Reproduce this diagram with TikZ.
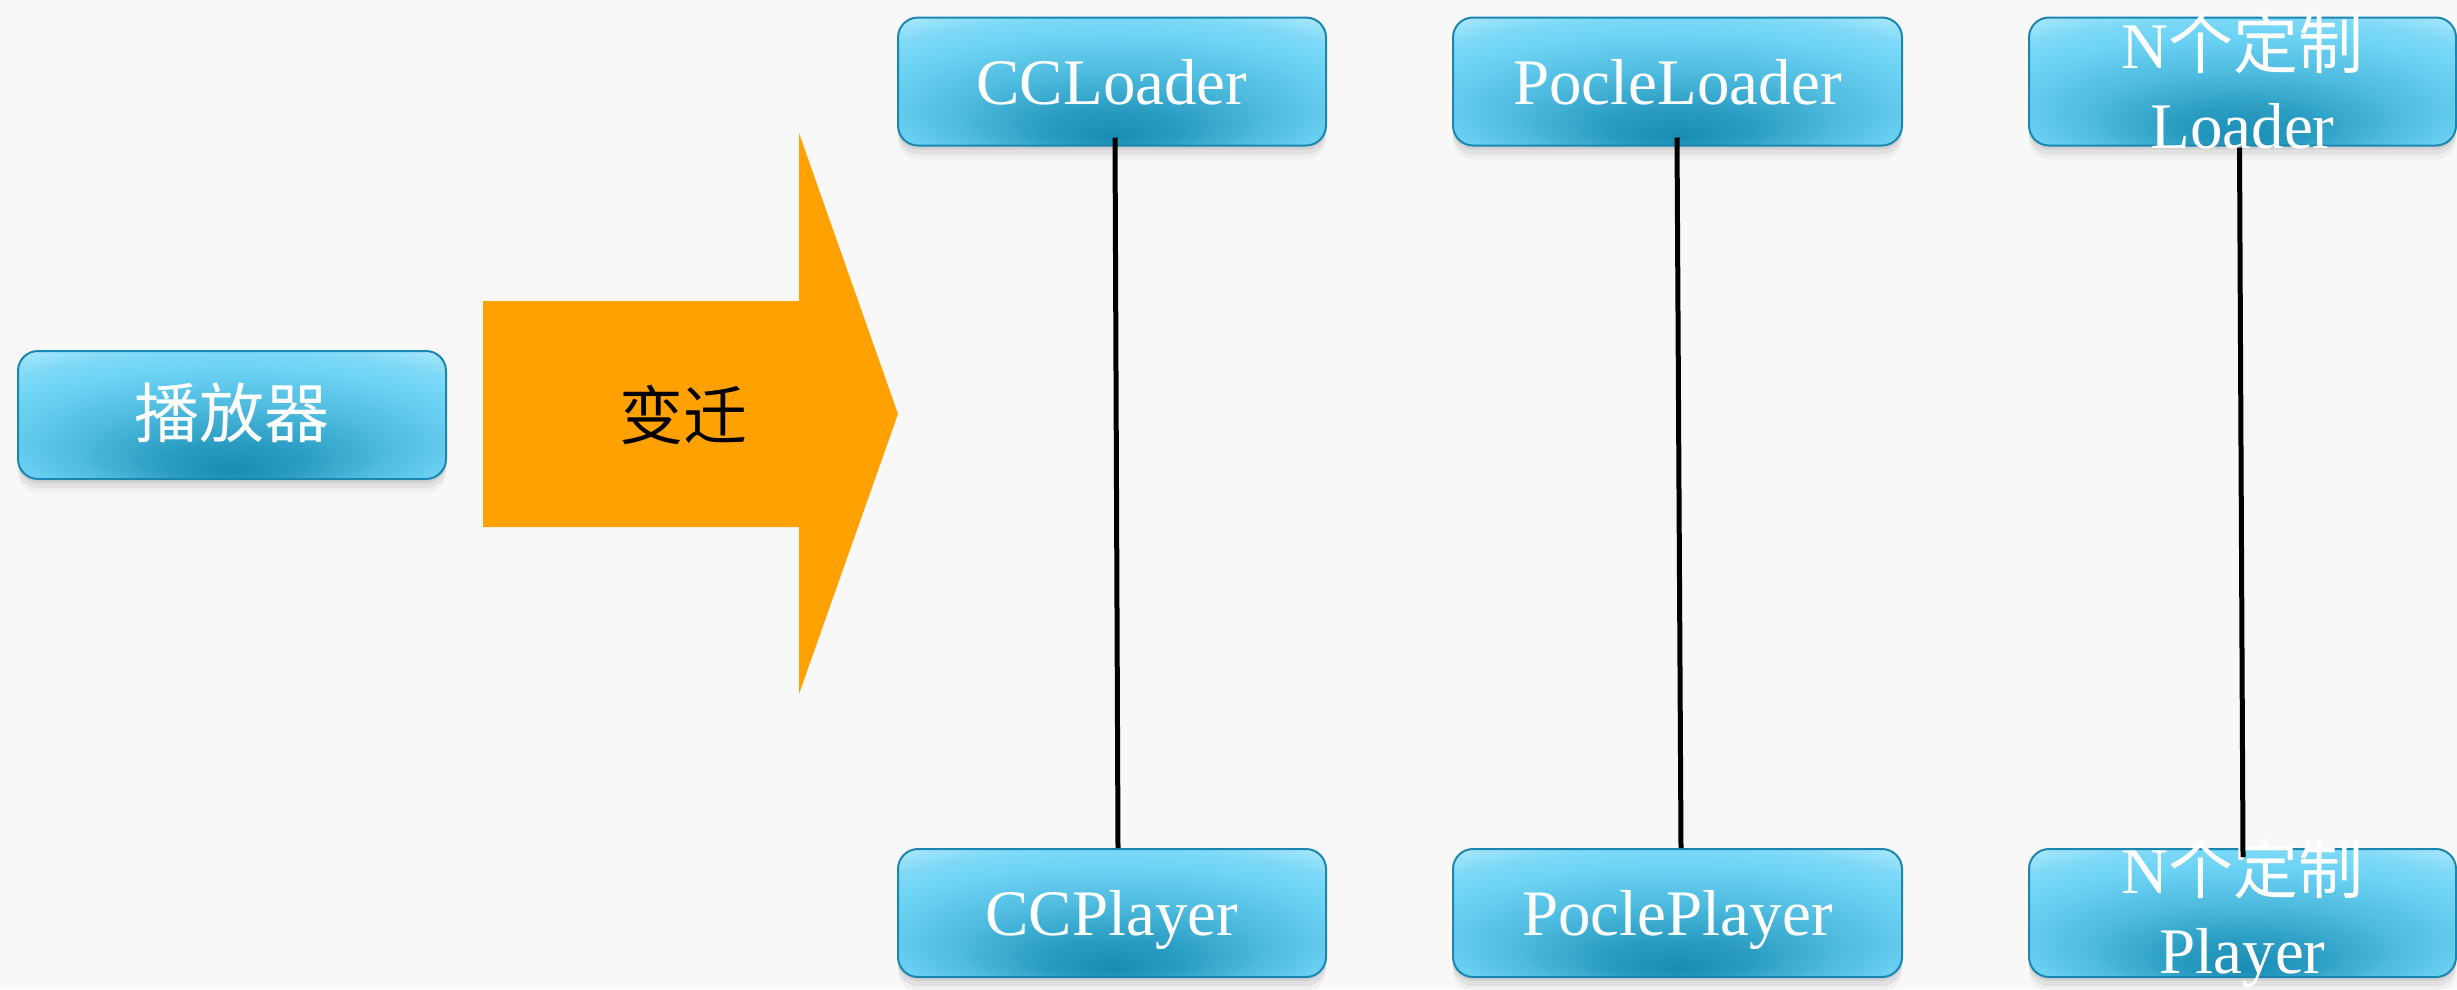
\documentclass[tikz,border=0pt]{standalone}
\usepackage{fontspec}
\setmainfont{Liberation Serif}
\newfontfamily\cjk{Noto Sans CJK SC}
\usetikzlibrary{shadows,calc}
\definecolor{bgc}{HTML}{F8F8F8}
\definecolor{bdark}{HTML}{1A8DB4}
\definecolor{bdark2}{HTML}{2A9CC2}
\definecolor{bmid}{HTML}{4EBBDF}
\definecolor{bbright}{HTML}{6DD3F4}
\definecolor{bbright2}{HTML}{7DD9F7}
\definecolor{blight}{HTML}{B6EAFD}
\definecolor{bborder}{HTML}{1A87B0}
\definecolor{arrowc}{HTML}{FFA100}
\pgfdeclareradialshading{boxshade}{\pgfpoint{0bp}{-22bp}}{color(0bp)=(bdark); color(8bp)=(bdark2); color(18bp)=(bmid); color(28bp)=(bbright); color(33bp)=(bbright2); color(40bp)=(blight); color(50bp)=(blight)}
\tikzset{
  lbox/.style={draw=bborder, line width=2pt, rounded corners=20pt, shade, shading=boxshade,
    minimum width=428pt, minimum height=128pt, inner xsep=0pt, inner ysep=-15pt, text=white,
    font=\fontsize{65}{80}\selectfont, align=center,
    drop shadow={shadow xshift=0pt, shadow yshift=-4pt, opacity=0.10, fill=black!70},
    drop shadow={shadow xshift=0pt, shadow yshift=-9pt, opacity=0.08, fill=black!70},
    drop shadow={shadow xshift=0pt, shadow yshift=-14pt, opacity=0.05, fill=black!70}},
  oneline/.style={text height=45pt, text depth=0pt},
  link/.style={line width=5pt, black},
  bigarrow/.style={fill=arrowc},
  arrowtext/.style={font=\cjk\fontsize{64}{64}\selectfont, text=black}
}
\begin{document}
\begin{tikzpicture}[x=1pt, y=-1pt]
\useasboundingbox (0,0) rectangle (2457,989);
\fill[bgc] (0,0) rectangle (2457,989);
% left box
\node[lbox, oneline] (player) at (232,415) {\cjk 播放器};
% big arrow
\fill[bigarrow] (483,301) -- (799,301) -- (799,133) -- (898,414) -- (799,694) -- (799,527) -- (483,527) -- cycle;
\node[arrowtext] (trans) at (683,415) {变迁};
% loaders
\node[lbox, oneline] (ccl) at (1112,81.5) {CCLoader};
\node[lbox, oneline, minimum width=449pt] (pocl) at (1677.5,81.5) {PocleLoader};
\node[lbox, minimum width=427pt] (nl) at (2242.5,81.5) {N{\cjk 个定制}\\Loader};
% players
\node[lbox, oneline] (ccp) at (1112,913) {CCPlayer};
\node[lbox, oneline, minimum width=449pt] (pocp) at (1677.5,913) {PoclePlayer};
\node[lbox, minimum width=427pt] (np) at (2242.5,913) {N{\cjk 个定制}\\Player};
% connectors
\draw[link] ($(ccl.south)+(3,-9)$) -- ($(ccp.north)+(6,0)$);
\draw[link] ($(pocl.south)+(-0.5,-9)$) -- ($(pocp.north)+(3.5,0)$);
\draw[link] ($(nl.south)+(-3,1)$) -- ($(np.north)+(0.5,9)$);
\end{tikzpicture}
\end{document}
